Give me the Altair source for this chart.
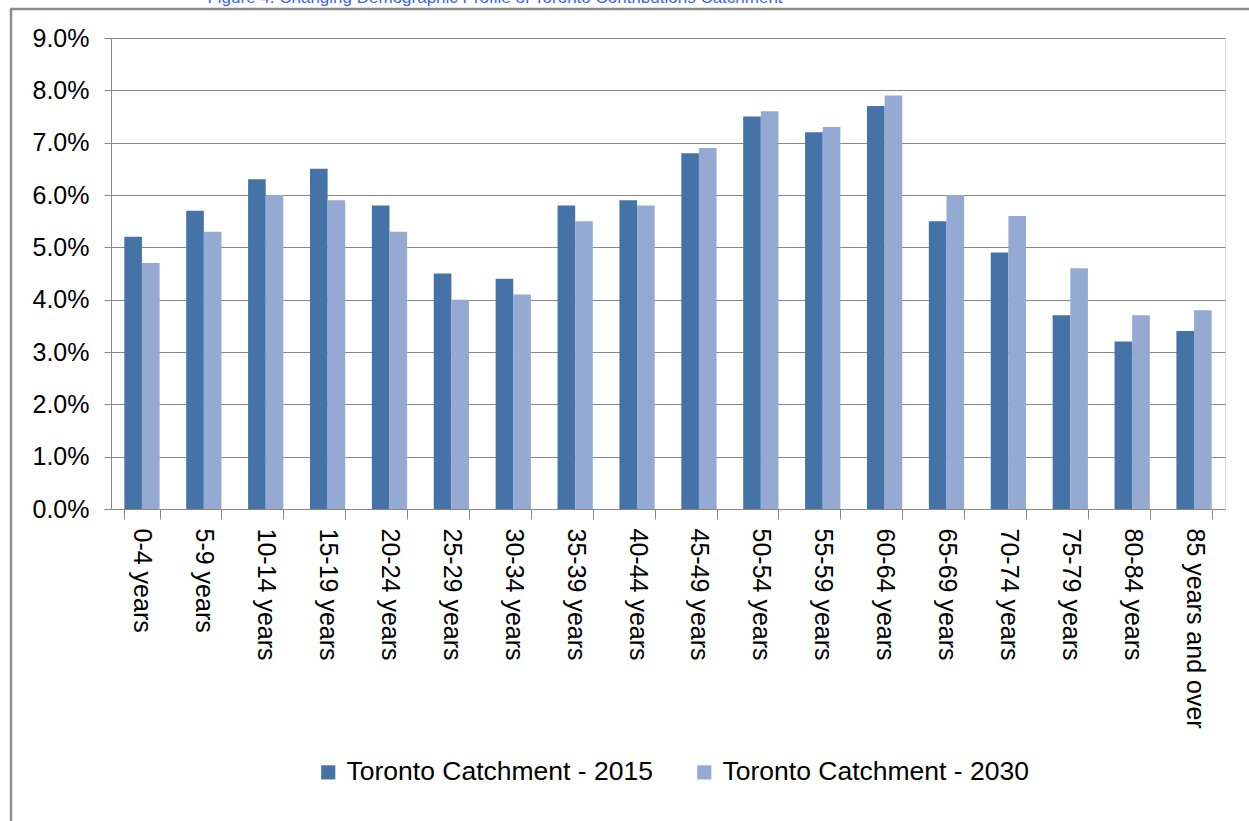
import altair as alt
import pandas as pd

categories = ["0-4 years", "5-9 years", "10-14 years", "15-19 years", "20-24 years",
              "25-29 years", "30-34 years", "35-39 years", "40-44 years", "45-49 years",
              "50-54 years", "55-59 years", "60-64 years", "65-69 years", "70-74 years",
              "75-79 years", "80-84 years", "85 years and over"]
s2015 = [5.2, 5.7, 6.3, 6.5, 5.8, 4.5, 4.4, 5.8, 5.9, 6.8, 7.5, 7.2, 7.7, 5.5, 4.9, 3.7, 3.2, 3.4]
s2030 = [4.7, 5.3, 6.0, 5.9, 5.3, 4.0, 4.1, 5.5, 5.8, 6.9, 7.6, 7.3, 7.9, 6.0, 5.6, 4.6, 3.7, 3.8]
series_names = ["Toronto Catchment - 2015", "Toronto Catchment - 2030"]
colors = ["#4573a8", "#95aad2"]
y_ticks = [0, 1, 2, 3, 4, 5, 6, 7, 8, 9]
title_text = "Figure 4: Changing Demographic Profile of Toronto Contributions Catchment"

rows = []
for c, a, b in zip(categories, s2015, s2030):
    rows.append({"age": c, "series": series_names[0], "value": a})
    rows.append({"age": c, "series": series_names[1], "value": b})
df = pd.DataFrame(rows)

FONT = "Liberation Sans"
GRAY = "#878787"

bars = alt.Chart(df).mark_bar().encode(
    x=alt.X("age:N", sort=categories, title=None,
            scale=alt.Scale(paddingInner=0.43, paddingOuter=0.215),
            axis=alt.Axis(labelAngle=90, tickBand="extent", tickSize=10, labelPadding=9,
                          labelFont=FONT, labelFontSize=25, labelColor="#000000",
                          labelAlign="left", labelBaseline="middle",
                          domainColor=GRAY, tickColor=GRAY, grid=False, labelLimit=0)),
    xOffset=alt.XOffset("series:N", sort=series_names),
    y=alt.Y("value:Q", title=None, scale=alt.Scale(domain=[0, 9], nice=False),
            axis=alt.Axis(values=y_ticks, labelExpr="format(datum.value, '.1f') + '%'",
                          tickSize=7, labelPadding=15, labelFont=FONT, labelFontSize=25,
                          labelColor="#000000", domainColor=GRAY, tickColor=GRAY,
                          gridColor=GRAY, gridWidth=1.2)),
    color=alt.Color("series:N", scale=alt.Scale(domain=series_names, range=colors),
                    legend=alt.Legend(title=None, orient="none", legendX=204, legendY=721,
                                      direction="horizontal", symbolType="square",
                                      symbolSize=200, symbolStrokeWidth=0,
                                      labelFont=FONT, labelFontSize=26.5, labelColor="#000000",
                                      labelLimit=0, labelOffset=5, columnPadding=38)),
)

title_layer = alt.Chart(pd.DataFrame({"t": [title_text]})).mark_text(
    font=FONT, fontSize=17, color="#3a66e6", align="center", baseline="alphabetic"
).encode(text="t:N", x=alt.value(384), y=alt.value(-35))

deco = pd.DataFrame({"k": [1]})
border_left = alt.Chart(deco).mark_rule(color="#8c8c8c", strokeWidth=2.5).encode(
    x=alt.value(-100), y=alt.value(-29), y2=alt.value(790))
border_top = alt.Chart(deco).mark_rule(color="#8c8c8c", strokeWidth=2.5).encode(
    x=alt.value(-101), x2=alt.value(1150), y=alt.value(-29))

chart = alt.layer(bars, title_layer, border_left, border_top).properties(
    width=1114, height=471,
    autosize=alt.AutoSizeParams(type="none"),
    padding={"left": 111, "top": 38, "right": 24, "bottom": 312},
).configure_view(stroke=None).configure(background="#ffffff")

chart.save("out.html", embed_options={"renderer": "svg", "actions": False})
